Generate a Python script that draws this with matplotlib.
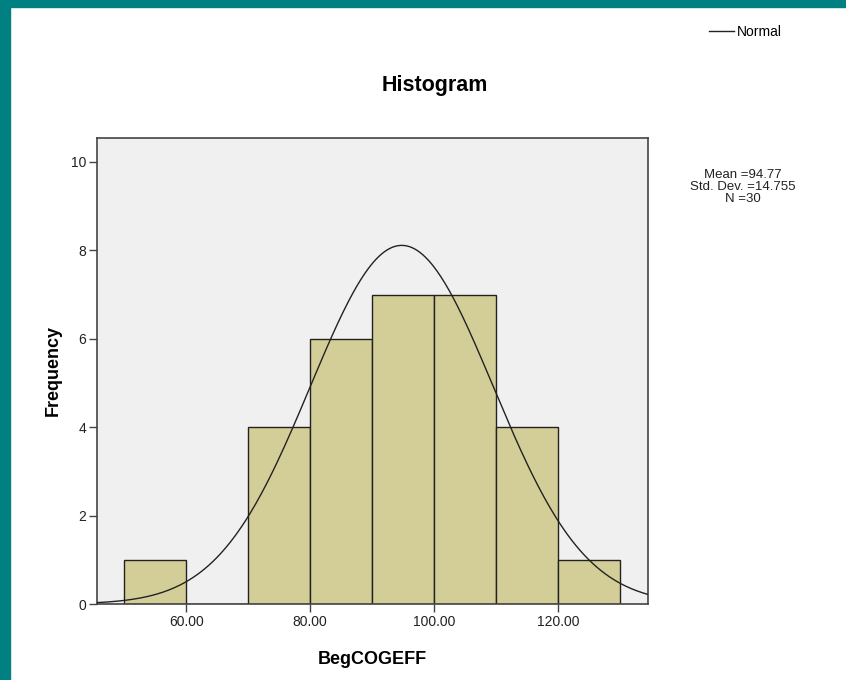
import numpy as np
import matplotlib
matplotlib.use("Agg")
import matplotlib.pyplot as plt
from matplotlib.patches import Rectangle

plt.rcParams['font.family'] = ['Liberation Sans', 'DejaVu Sans']

# histogram data
bin_edges = [50, 60, 70, 80, 90, 100, 110, 120, 130]
counts = [1, 0, 4, 6, 7, 7, 4, 1]
mean_val = 94.77
std_val = 14.755
n_val = 30
x_ticks = [60, 80, 100, 120]
x_tick_labels = ["60.00", "80.00", "100.00", "120.00"]
y_ticks = [0, 2, 4, 6, 8, 10]

W, H = 846, 680
fig = plt.figure(figsize=(W / 100, H / 100), dpi=100)
fig.patch.set_facecolor("white")

# teal frame on top and left
fig.patches.append(Rectangle((0, 1 - 7 / H), 1, 7 / H, transform=fig.transFigure,
                             color="#008080", zorder=0))
fig.patches.append(Rectangle((0, 0), 10 / W, 1, transform=fig.transFigure,
                             color="#008080", zorder=0))

ax = fig.add_axes([97 / W, 76 / H, 551 / W, 466 / H])
ax.set_facecolor("#f0f0f0")

widths = np.diff(bin_edges)
ax.bar(bin_edges[:-1], counts, width=widths, align="edge", color="#d3ce98",
       edgecolor="#222222", linewidth=1.0, zorder=2)

xs = np.linspace(45.6, 134.5, 400)
ys = n_val * 10 * np.exp(-0.5 * ((xs - mean_val) / std_val) ** 2) / (std_val * np.sqrt(2 * np.pi))
line, = ax.plot(xs, ys, color="#222222", linewidth=1.0, zorder=3, label="Normal")

ax.set_xlim(45.6, 134.5)
ax.set_ylim(0, 10.54)
ax.set_xticks(x_ticks)
ax.set_xticklabels(x_tick_labels)
ax.set_yticks(y_ticks)
ax.tick_params(axis="both", direction="out", length=6, width=1.0, color="#444444",
               labelsize=10, labelcolor="#222222", pad=2)

for sp in ax.spines.values():
    sp.set_color("#444444")
    sp.set_linewidth(1.2)

ax.set_xlabel("BegCOGEFF", fontsize=13, fontweight="bold", labelpad=16)
ax.set_ylabel("Frequency", fontsize=13, fontweight="bold", labelpad=6)

fig.text(435 / W, 1 - 85 / H, "Histogram", fontsize=15.5, fontweight="bold",
         ha="center", va="center")

fig.text(743 / W, 1 - 187 / H, "Mean =94.77\nStd. Dev. =14.755\nN =30",
         fontsize=9.5, ha="center", va="center", linespacing=0.98, color="#222222")

fig.legend(handles=[line], labels=["Normal"], loc="center", bbox_to_anchor=(745 / W, 1 - 32 / H),
           frameon=False, fontsize=10, handlelength=1.8, handletextpad=0.2)

fig.savefig("out.png", dpi=100)
